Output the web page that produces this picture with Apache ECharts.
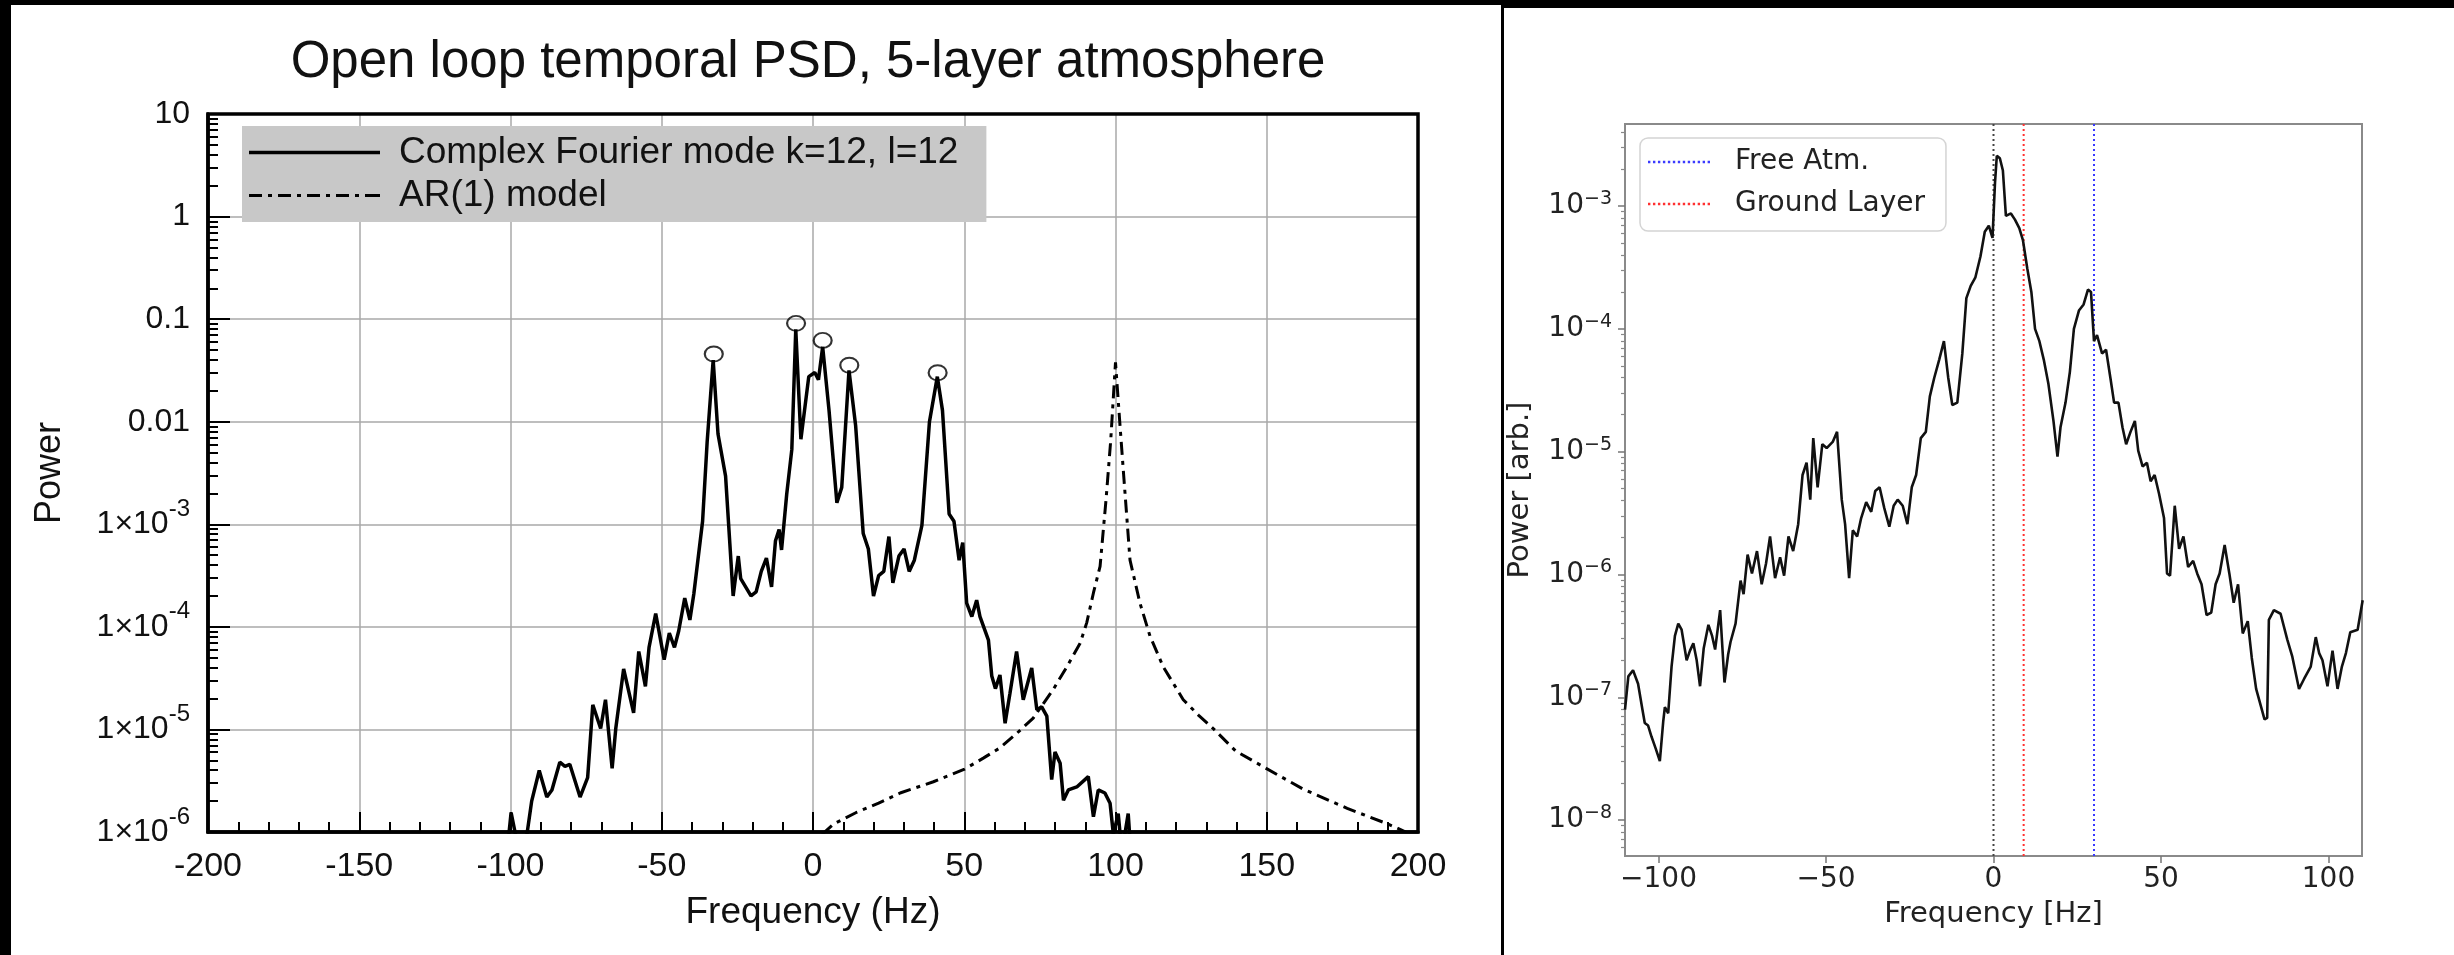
<!DOCTYPE html>
<html>
<head>
<meta charset="utf-8">
<script src="https://cdn.jsdelivr.net/npm/echarts@6/dist/echarts.min.js"></script>
<style>html,body{margin:0;padding:0;background:#000;}#c{width:2454px;height:955px;}</style>
</head>
<body>
<div id="c"></div>
<script>
// ---------- Left panel data ----------
const leftTitle = 'Open loop temporal PSD, 5-layer atmosphere';
const modeName = 'Complex Fourier mode k=12, l=12';
const arName = 'AR(1) model';
const modeFreq = [-101.5,-99.8,-97.5,-94.7,-93.0,-90.5,-88.0,-86.3,-83.7,-82.0,-80.4,-77.0,-74.5,-72.8,-70.2,-68.6,-66.4,-65.2,-62.6,-59.3,-57.6,-55.4,-54.2,-52.0,-49.2,-47.5,-45.8,-44.4,-42.4,-40.7,-39.4,-36.5,-35.0,-33.0,-31.4,-28.9,-26.4,-24.7,-23.9,-20.5,-18.8,-17.1,-15.4,-13.7,-12.4,-11.2,-10.4,-8.7,-7.0,-5.7,-4.0,-1.4,0.6,1.8,3.2,5.3,7.9,9.5,11.9,14.1,16.6,18.3,20.0,21.7,23.4,25.1,26.4,28.4,30.1,31.8,33.5,36.0,38.5,41.1,42.8,45.0,46.6,48.3,49.5,50.8,52.5,54.1,55.2,58.0,59.1,60.3,61.8,63.5,65.1,67.3,69.5,72.3,74.0,75.6,77.3,78.9,80.0,81.7,82.8,84.4,87.2,91.0,92.7,94.3,96.5,98.2,99.3,100.9,102.1,104.2,105.3];
const modePower = [5.0e-7,1.55e-6,7.1e-7,8.9e-7,2.0e-6,3.98e-6,2.19e-6,2.57e-6,4.79e-6,4.37e-6,4.57e-6,2.19e-6,3.39e-6,1.74e-5,1.02e-5,1.95e-5,4.17e-6,1.02e-5,3.89e-5,1.45e-5,5.75e-5,2.63e-5,6.31e-5,1.35e-4,4.79e-5,8.71e-5,6.31e-5,9.12e-5,1.91e-4,1.17e-4,2.09e-4,1.07e-3,6.3e-3,3.98e-2,7.59e-3,2.95e-3,2.0e-4,4.9e-4,2.95e-4,2.0e-4,2.19e-4,3.47e-4,4.68e-4,2.45e-4,6.92e-4,8.91e-4,5.62e-4,1.95e-3,5.37e-3,7.94e-2,6.76e-3,2.75e-2,3.02e-2,2.57e-2,5.37e-2,1.29e-2,1.62e-3,2.29e-3,3.16e-2,9.12e-3,8.13e-4,5.75e-4,2.0e-4,3.16e-4,3.47e-4,7.59e-4,2.69e-4,4.9e-4,5.75e-4,3.47e-4,4.47e-4,9.77e-4,1.0e-2,2.75e-2,1.29e-2,1.26e-3,1.07e-3,4.47e-4,6.61e-4,1.70e-4,1.26e-4,1.82e-4,1.26e-4,7.41e-5,3.31e-5,2.5e-5,3.39e-5,1.15e-5,2.24e-5,5.75e-5,1.95e-5,3.98e-5,1.55e-5,1.66e-5,1.35e-5,3.24e-6,6.03e-6,4.68e-6,2.04e-6,2.57e-6,2.75e-6,3.47e-6,1.41e-6,2.57e-6,2.4e-6,1.91e-6,9.5e-7,1.51e-6,6.3e-7,1.51e-6,5.0e-7];
const peakFreq = [-32.8,-5.6,3.2,12.0,41.2];
const peakPower = [0.0457,0.091,0.062,0.0355,0.030];
const arFreq = [3.0,6.9,14.3,21.7,28.8,39.8,49.9,56.3,61.8,67.3,72.8,79.4,83.9,88.3,90.5,92.7,94.9,96.9,98.4,100.0,101.4,102.8,104.8,108.1,111.4,115.8,122.4,127.4,132.3,139.7,149.8,161.9,176.6,189.9,196.0];
const arPower = [9.5e-7,1.20e-6,1.55e-6,1.91e-6,2.4e-6,3.09e-6,4.07e-6,5.25e-6,6.61e-6,9.12e-6,1.29e-5,2.45e-5,4.07e-5,6.92e-5,1.10e-4,2.14e-4,3.89e-4,1.78e-3,6.46e-3,3.8e-2,1.0e-2,2.75e-3,4.47e-4,1.70e-4,8.13e-5,4.07e-5,1.95e-5,1.38e-5,1.02e-5,6.17e-6,4.17e-6,2.63e-6,1.70e-6,1.20e-6,1.0e-6];
const leftXTicks = [-200,-150,-100,-50,0,50,100,150,200];
const leftYTicks = [1e-6,1e-5,1e-4,1e-3,0.01,0.1,1,10];
const leftYLabels = ['1×10{s|-6}','1×10{s|-5}','1×10{s|-4}','1×10{s|-3}','0.01','0.1','1','10'];
const leftYMinor = [2e-6,3e-6,4e-6,5e-6,6e-6,7e-6,8e-6,9e-6,2e-5,3e-5,4e-5,5e-5,6e-5,7e-5,8e-5,9e-5,2e-4,3e-4,4e-4,5e-4,6e-4,7e-4,8e-4,9e-4,2e-3,3e-3,4e-3,5e-3,6e-3,7e-3,8e-3,9e-3,0.02,0.03,0.04,0.05,0.06,0.07,0.08,0.09,0.2,0.3,0.4,0.5,0.6,0.7,0.8,0.9,2,3,4,5,6,7,8,9];

// ---------- Right panel data ----------
const rightFreq = [-110.0,-109.0,-107.6,-106.1,-104.8,-104.1,-103.1,-102.1,-100.8,-99.6,-98.6,-98.1,-97.1,-96.1,-95.1,-94.1,-93.1,-91.6,-90.6,-89.6,-88.6,-87.6,-86.5,-85.1,-84.0,-83.1,-81.6,-80.3,-79.2,-78.5,-77.0,-75.5,-74.6,-73.4,-72.1,-70.6,-69.2,-67.9,-66.7,-65.2,-63.7,-62.5,-61.2,-59.8,-58.3,-57.0,-55.8,-54.7,-53.8,-52.5,-51.1,-49.8,-48.0,-46.7,-45.3,-44.3,-43.1,-42.0,-40.7,-39.5,-38.0,-36.5,-35.3,-34.0,-32.6,-31.1,-29.8,-28.6,-27.1,-25.7,-24.4,-23.1,-21.7,-20.2,-19.0,-17.7,-16.2,-14.8,-13.5,-12.3,-10.8,-9.3,-8.1,-6.8,-5.4,-3.9,-2.6,-1.4,-0.3,0.45,0.99,1.9,2.8,3.7,5.2,6.4,7.7,8.8,10.1,11.3,12.4,13.7,15.0,16.4,17.9,19.1,20.0,21.5,22.8,24.0,25.5,26.9,28.2,29.1,30.0,30.9,32.4,33.6,34.9,36.0,37.3,38.5,39.6,40.9,42.2,43.2,44.5,45.8,46.9,48.1,49.4,50.9,51.8,52.7,54.1,55.4,56.7,58.1,59.6,60.8,62.1,63.6,65.0,66.3,67.5,69.0,70.4,71.7,73.0,74.4,75.9,77.1,78.4,79.9,80.9,81.7,82.2,83.7,85.7,87.7,89.2,91.2,92.7,94.7,96.2,97.2,98.2,99.7,101.2,102.7,104.0,105.2,106.5,108.7,110.2];
const rightPower = [7.94e-8,1.48e-7,1.66e-7,1.29e-7,7.94e-8,6.17e-8,5.89e-8,4.79e-8,3.80e-8,3.02e-8,6.31e-8,8.32e-8,7.41e-8,1.78e-7,3.16e-7,3.98e-7,3.55e-7,2.0e-7,2.4e-7,2.75e-7,2.0e-7,1.23e-7,2.51e-7,3.89e-7,3.16e-7,2.45e-7,5.13e-7,1.32e-7,2.24e-7,2.82e-7,3.98e-7,8.91e-7,6.92e-7,1.45e-6,1.02e-6,1.55e-6,8.32e-7,1.23e-6,2.04e-6,9.33e-7,1.38e-6,9.77e-7,2.04e-6,1.55e-6,2.57e-6,6.46e-6,8.13e-6,4.07e-6,1.29e-5,5.13e-6,1.15e-5,1.07e-5,1.20e-5,1.45e-5,4.07e-6,2.57e-6,9.33e-7,2.29e-6,2.04e-6,2.88e-6,3.89e-6,3.24e-6,4.79e-6,5.13e-6,3.47e-6,2.45e-6,3.63e-6,4.07e-6,3.63e-6,2.57e-6,5.13e-6,6.46e-6,1.29e-5,1.45e-5,2.82e-5,3.98e-5,5.62e-5,7.94e-5,3.98e-5,2.4e-5,2.51e-5,6.31e-5,1.78e-4,2.24e-4,2.63e-4,3.89e-4,6.17e-4,6.92e-4,5.5e-4,1.55e-3,2.57e-3,2.45e-3,1.95e-3,8.32e-4,8.71e-4,7.76e-4,6.61e-4,5.25e-4,3.09e-4,2.0e-4,1.0e-4,7.94e-5,5.62e-5,3.55e-5,1.78e-5,9.12e-6,1.58e-5,2.51e-5,4.47e-5,1.0e-4,1.41e-4,1.58e-4,2.09e-4,2.0e-4,7.94e-5,8.91e-5,6.31e-5,6.76e-5,3.98e-5,2.51e-5,2.51e-5,1.58e-5,1.15e-5,1.45e-5,1.78e-5,1.02e-5,7.59e-6,8.13e-6,5.75e-6,6.46e-6,4.57e-6,2.88e-6,1.02e-6,9.77e-7,3.63e-6,1.62e-6,2.04e-6,1.15e-6,1.29e-6,1.02e-6,8.32e-7,4.68e-7,4.9e-7,8.32e-7,1.02e-6,1.74e-6,1.02e-6,5.89e-7,8.32e-7,3.31e-7,4.17e-7,2.09e-7,1.17e-7,8.32e-8,6.61e-8,6.8e-8,4.27e-7,5.13e-7,4.79e-7,2.95e-7,2.14e-7,1.17e-7,1.41e-7,1.78e-7,3.09e-7,2.29e-7,2.0e-7,1.23e-7,2.4e-7,1.17e-7,1.78e-7,2.29e-7,3.39e-7,3.55e-7,6.17e-7];
const freeAtmName = 'Free Atm.';
const groundName = 'Ground Layer';
const zeroLineX = 0;
const groundLineX = 9;
const freeAtmLineX = 30;
const rightXRange = [-110, 110];
const rightYRange = [5.1e-9, 4.66e-3];
const rightXTicks = [-100,-50,0,50,100];
const rightXLabels = ['−100','−50','0','50','100'];
const rightYTicks = [1e-8,1e-7,1e-6,1e-5,1e-4,1e-3];
const rightYLabels = ['10{s|−8}','10{s|−7}','10{s|−6}','10{s|−5}','10{s|−4}','10{s|−3}'];
const rightYMinor = [6e-9,7e-9,8e-9,9e-9,2e-8,3e-8,4e-8,5e-8,6e-8,7e-8,8e-8,9e-8,2e-7,3e-7,4e-7,5e-7,6e-7,7e-7,8e-7,9e-7,2e-6,3e-6,4e-6,5e-6,6e-6,7e-6,8e-6,9e-6,2e-5,3e-5,4e-5,5e-5,6e-5,7e-5,8e-5,9e-5,2e-4,3e-4,4e-4,5e-4,6e-4,7e-4,8e-4,9e-4,2e-3,3e-3,4e-3];

const zip = (a, b) => a.map((v, i) => [v, b[i]]);
const HV = '"Liberation Sans", Arial, Helvetica, sans-serif';
const DJ = '"DejaVu Sans", sans-serif';
const nearIdx = (arr, v) => { let bi = 0, bd = Infinity; arr.forEach((t, i) => { const d = Math.abs(Math.log10(t) - Math.log10(v)); if (d < bd) { bd = d; bi = i; } }); return bi; };

// legend icons drawn as line patterns (solid, dash-dot, dotted)
const solidIcon = 'path://M0,0h131v3.5h-131z';
const dashDotIcon = 'path://M0,0h13v3h-13zM19,0h4v3h-4zM29,0h13v3h-13zM48,0h4v3h-4zM58,0h13v3h-13zM77,0h4v3h-4zM87,0h13v3h-13zM106,0h4v3h-4zM116,0h15v3h-15z';
let dots = '';
for (let k = 0; k < 13; k++) { dots += 'M' + (k * 5) + ',0h2.4v2.4h-2.4z'; }
const dottedIcon = 'path://' + dots;

const chart = echarts.init(document.getElementById('c'), null, {renderer: 'canvas'});
const option = {
  backgroundColor: '#000',
  animation: false,
  graphic: [
    {type: 'rect', z: -100, shape: {x: 11, y: 5, width: 1490, height: 950}, style: {fill: '#fff'}},
    {type: 'rect', z: -100, shape: {x: 1504, y: 8, width: 950, height: 947}, style: {fill: '#fff'}},
    {type: 'text', z: 10, x: 808, y: 63, style: {text: leftTitle, font: '51px ' + HV, fill: '#111', align: 'center', verticalAlign: 'middle', textAlign: 'center', textVerticalAlign: 'middle'}}
  ],
  grid: [
    {left: 208, top: 114, width: 1210, height: 718, show: true, borderColor: '#000', borderWidth: 3.5, backgroundColor: 'transparent', z: 3},
    {left: 1625, top: 124, width: 737, height: 732, show: true, borderColor: '#8a8a8a', borderWidth: 2, backgroundColor: 'transparent'}
  ],
  legend: [
    {
      orient: 'vertical', left: 242, top: 126, selectedMode: false,
      data: [{name: modeName, icon: solidIcon}, {name: arName, icon: dashDotIcon}],
      backgroundColor: '#c8c8c8', borderWidth: 0, padding: [8, 28, 8, 7],
      itemWidth: 131, itemHeight: 3.5, itemGap: 6,
      textStyle: {fontSize: 37, fontFamily: HV, color: '#111', lineHeight: 36, padding: [0, 0, 0, 14]}
    },
    {
      orient: 'vertical', left: 1640, top: 138, selectedMode: false,
      data: [{name: freeAtmName, icon: dottedIcon}, {name: groundName, icon: dottedIcon}],
      backgroundColor: 'rgba(255,255,255,0.85)', borderColor: '#d4d4d4', borderWidth: 1.5, borderRadius: 8,
      padding: [10, 21, 13, 8],
      itemWidth: 62, itemHeight: 2.4, itemGap: 14,
      textStyle: {fontSize: 28, fontFamily: DJ, color: '#222', lineHeight: 28, padding: [0, 0, 0, 20]}
    }
  ],
  xAxis: [
    {
      gridIndex: 0, type: 'value', min: leftXTicks[0], max: leftXTicks[leftXTicks.length - 1], interval: 50,
      axisLine: {onZero: false, lineStyle: {color: '#000', width: 3.5}},
      axisTick: {inside: true, length: 20, lineStyle: {color: '#000', width: 2}},
      minorTick: {show: true, splitNumber: 5, length: 10, lineStyle: {color: '#000', width: 2}},
      splitLine: {show: true, lineStyle: {color: '#a8a8a8', width: 1.5}},
      axisLabel: {fontSize: 34, fontFamily: HV, color: '#111', margin: 18},
      name: 'Frequency (Hz)', nameLocation: 'middle', nameGap: 62,
      nameTextStyle: {fontSize: 37, fontFamily: HV, color: '#111'}
    },
    {
      gridIndex: 1, type: 'value', min: rightXRange[0], max: rightXRange[1],
      axisLine: {onZero: false, lineStyle: {color: '#8a8a8a', width: 2}},
      axisTick: {customValues: rightXTicks, inside: false, length: 7, lineStyle: {color: '#777', width: 1.5}},
      splitLine: {show: false},
      axisLabel: {customValues: rightXTicks, fontSize: 28, fontFamily: DJ, color: '#222', margin: 10,
        formatter: v => rightXLabels[rightXTicks.indexOf(v)] ?? ''},
      name: 'Frequency [Hz]', nameLocation: 'middle', nameGap: 44,
      nameTextStyle: {fontSize: 29, fontFamily: DJ, color: '#222'}
    }
  ],
  yAxis: [
    {
      gridIndex: 0, type: 'log', logBase: 10, min: leftYTicks[0], max: leftYTicks[leftYTicks.length - 1], position: 'left',
      axisLine: {show: true, onZero: false, lineStyle: {color: '#000', width: 3.5}},
      axisTick: {customValues: leftYTicks, inside: true, length: 22, lineStyle: {color: '#000', width: 2}},
      splitLine: {show: true, lineStyle: {color: '#a8a8a8', width: 1.5}},
      axisLabel: {customValues: leftYTicks, fontSize: 32, fontFamily: HV, color: '#111', margin: 18,
        formatter: v => leftYLabels[nearIdx(leftYTicks, v)],
        rich: {s: {fontSize: 24, fontFamily: HV, color: '#111', padding: [0, 0, 30, 0]}}},
      name: 'Power', nameLocation: 'middle', nameRotate: 90, nameGap: 140,
      nameTextStyle: {fontSize: 36, fontFamily: HV, color: '#111'}
    },
    {
      gridIndex: 0, type: 'log', logBase: 10, min: leftYTicks[0], max: leftYTicks[leftYTicks.length - 1], position: 'left',
      axisLine: {show: false, onZero: false}, axisLabel: {show: false}, splitLine: {show: false},
      axisTick: {show: true, customValues: leftYMinor, inside: true, length: 10, lineStyle: {color: '#000', width: 2}}
    },
    {
      gridIndex: 1, type: 'log', logBase: 10, min: rightYRange[0], max: rightYRange[1], position: 'left',
      axisLine: {show: true, onZero: false, lineStyle: {color: '#8a8a8a', width: 2}},
      axisTick: {customValues: rightYTicks, inside: false, length: 7, lineStyle: {color: '#777', width: 1.5}},
      splitLine: {show: false},
      axisLabel: {customValues: rightYTicks, fontSize: 28, fontFamily: DJ, color: '#222', margin: 13,
        formatter: v => rightYLabels[nearIdx(rightYTicks, v)],
        rich: {s: {fontSize: 19, fontFamily: DJ, color: '#222', padding: [0, 0, 14, 0]}}},
      name: 'Power [arb.]', nameLocation: 'middle', nameRotate: 90, nameGap: 90,
      nameTextStyle: {fontSize: 29, fontFamily: DJ, color: '#222'}
    },
    {
      gridIndex: 1, type: 'log', logBase: 10, min: rightYRange[0], max: rightYRange[1], position: 'left',
      axisLine: {show: false, onZero: false}, axisLabel: {show: false}, splitLine: {show: false},
      axisTick: {show: true, customValues: rightYMinor, inside: false, length: 4, lineStyle: {color: '#888', width: 1.2}}
    }
  ],
  series: [
    {
      name: arName, type: 'line', xAxisIndex: 0, yAxisIndex: 0, data: zip(arFreq, arPower),
      symbol: 'none', showSymbol: false, clip: true, z: 3,
      lineStyle: {color: '#000', width: 3, type: [13, 6, 4, 6]}, itemStyle: {color: '#000'}
    },
    {
      name: modeName, type: 'line', xAxisIndex: 0, yAxisIndex: 0, data: zip(modeFreq, modePower),
      symbol: 'none', showSymbol: false, clip: true, z: 4,
      lineStyle: {color: '#000', width: 3.5}, itemStyle: {color: '#000'}
    },
    {
      name: 'peaks', type: 'scatter', xAxisIndex: 0, yAxisIndex: 0, data: zip(peakFreq, peakPower),
      symbol: 'path://M10,0A10,10,0,1,1,10,20A10,10,0,1,1,10,0Z', symbolSize: [18, 15], z: 5,
      itemStyle: {color: 'rgba(0,0,0,0)', borderColor: '#000', borderWidth: 2}
    },
    {
      name: 'zero', type: 'line', xAxisIndex: 1, yAxisIndex: 2,
      data: [[zeroLineX, rightYRange[0]], [zeroLineX, rightYRange[1]]],
      symbol: 'none', z: 2, lineStyle: {color: '#444', width: 2, type: [2, 3]}
    },
    {
      name: groundName, type: 'line', xAxisIndex: 1, yAxisIndex: 2,
      data: [[groundLineX, rightYRange[0]], [groundLineX, rightYRange[1]]],
      symbol: 'none', z: 2, lineStyle: {color: '#ff3030', width: 2, type: [2, 3]}, itemStyle: {color: '#ff3030'}
    },
    {
      name: freeAtmName, type: 'line', xAxisIndex: 1, yAxisIndex: 2,
      data: [[freeAtmLineX, rightYRange[0]], [freeAtmLineX, rightYRange[1]]],
      symbol: 'none', z: 2, lineStyle: {color: '#3a3aff', width: 2, type: [2, 3]}, itemStyle: {color: '#3a3aff'}
    },
    {
      name: 'psd', type: 'line', xAxisIndex: 1, yAxisIndex: 2, data: zip(rightFreq, rightPower),
      symbol: 'none', showSymbol: false, clip: true, z: 3,
      lineStyle: {color: '#111', width: 2.6}
    }
  ]
};
chart.setOption(option);
</script>
</body>
</html>
